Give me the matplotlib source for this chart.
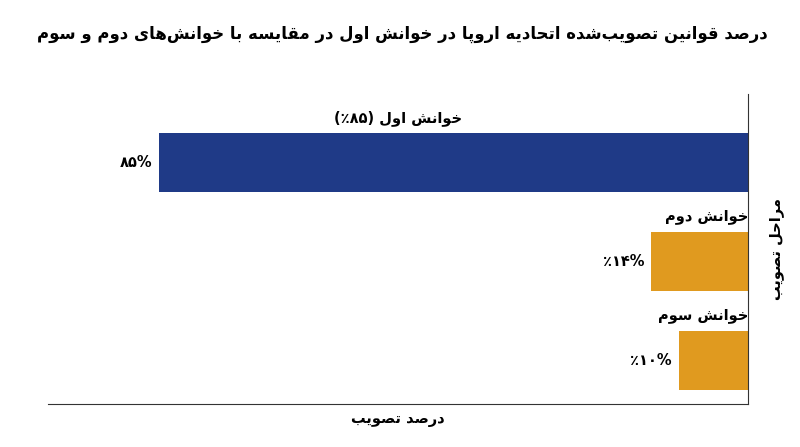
import matplotlib
matplotlib.use('Agg')
import matplotlib.pyplot as plt

# data
stages = ['خوانش اول', 'خوانش دوم', 'خوانش سوم']
percent = [85, 14, 10]
bar_labels = ['خوانش اول (۸۵٪)', 'خوانش دوم', 'خوانش سوم']
value_labels = ['۸۵%', '٪۱۴%', '٪۱۰%']   # already in display order
bar_colors = ['#1f3a87', '#e09a1f', '#e09a1f']

title = 'درصد قوانین تصویب\u200cشده اتحادیه اروپا در خوانش اول در مقایسه با خوانش\u200cهای دوم و سوم'
xlabel = 'درصد تصویب'
ylabel = 'مراحل تصویب'

# matplotlib has no arabic shaping, so do it by hand
# (isolated, final, initial, medial)
FORMS = {
    'ا': ('\uFE8D', '\uFE8E', None, None),
    'ب': ('\uFE8F', '\uFE90', '\uFE91', '\uFE92'),
    'پ': ('\uFB56', '\uFB57', '\uFB58', '\uFB59'),
    'ت': ('\uFE95', '\uFE96', '\uFE97', '\uFE98'),
    'ح': ('\uFEA1', '\uFEA2', '\uFEA3', '\uFEA4'),
    'خ': ('\uFEA5', '\uFEA6', '\uFEA7', '\uFEA8'),
    'د': ('\uFEA9', '\uFEAA', None, None),
    'ر': ('\uFEAD', '\uFEAE', None, None),
    'س': ('\uFEB1', '\uFEB2', '\uFEB3', '\uFEB4'),
    'ش': ('\uFEB5', '\uFEB6', '\uFEB7', '\uFEB8'),
    'ص': ('\uFEB9', '\uFEBA', '\uFEBB', '\uFEBC'),
    'ق': ('\uFED5', '\uFED6', '\uFED7', '\uFED8'),
    'ل': ('\uFEDD', '\uFEDE', '\uFEDF', '\uFEE0'),
    'م': ('\uFEE1', '\uFEE2', '\uFEE3', '\uFEE4'),
    'ن': ('\uFEE5', '\uFEE6', '\uFEE7', '\uFEE8'),
    'ه': ('\uFEE9', '\uFEEA', '\uFEEB', '\uFEEC'),
    'و': ('\uFEED', '\uFEEE', None, None),
    'ی': ('\uFBFC', '\uFBFD', '\uFBFE', '\uFBFF'),
}
DIGITS = set('0123456789۰۱۲۳۴۵۶۷۸۹')
MIRROR = {'(': ')', ')': '('}


def fa(text):
    out = []
    for i, c in enumerate(text):
        if c not in FORMS:
            if c != '\u200c':
                out.append(c)
            continue
        prev = text[i - 1] if i > 0 else None
        nxt = text[i + 1] if i + 1 < len(text) else None
        jp = prev in FORMS and FORMS[prev][2] is not None
        jn = FORMS[c][2] is not None and nxt in FORMS
        iso, fin, ini, med = FORMS[c]
        out.append(med if jp and jn else fin if jp else ini if jn else iso)
    rev = out[::-1]
    res = []
    i = 0
    while i < len(rev):
        if rev[i] in DIGITS:
            j = i
            while j < len(rev) and rev[j] in DIGITS:
                j += 1
            res.extend(rev[i:j][::-1])
            i = j
        else:
            res.append(MIRROR.get(rev[i], rev[i]))
            i += 1
    return ''.join(res)


plt.rcParams['font.family'] = ['DejaVu Sans']

fig = plt.figure(figsize=(8, 4.47), dpi=100)
ax = fig.add_axes([0.06, 0.096, 0.875, 0.694])

ypos = list(range(len(stages)))
ax.barh(ypos, percent, height=0.6, color=bar_colors)
ax.set_xlim(101, 0)
ax.set_ylim(2.44, -0.69)

for y, v, lab, vl in zip(ypos, percent, bar_labels, value_labels):
    if y == 0:
        ax.text(0.5, y - 0.45, fa(lab), transform=ax.get_yaxis_transform(),
                ha='center', va='center', fontsize=10.5, fontweight='bold')
    else:
        ax.text(0, y - 0.45, fa(lab), ha='right', va='center',
                fontsize=10.5, fontweight='bold')
    ax.annotate(vl, (v, y), xytext=(-5, 0), textcoords='offset points',
                ha='right', va='center', fontsize=10.5, fontweight='bold')

ax.set_xticks([])
ax.set_yticks([])
ax.spines['left'].set_visible(False)
ax.spines['top'].set_visible(False)
ax.spines['right'].set_color('#333333')
ax.spines['bottom'].set_color('#333333')

ax.set_xlabel(fa(xlabel), fontsize=10.5, fontweight='bold', labelpad=6)
ax.yaxis.set_label_position('right')
ax.set_ylabel(fa(ylabel), fontsize=10.5, fontweight='bold', rotation=90)
ax.yaxis.set_label_coords(1.03, 0.5)

fig.text(0.96, 0.925, fa(title), ha='right', va='center', fontsize=11.9,
         fontweight='bold')

fig.savefig('out.png', dpi=100, facecolor='white')
